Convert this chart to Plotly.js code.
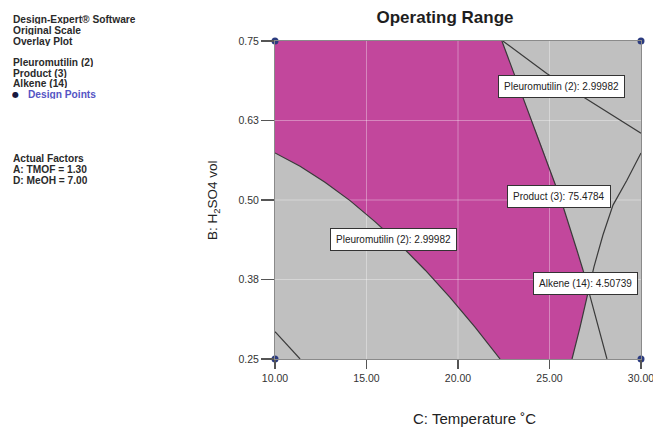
<!DOCTYPE html>
<html><head><meta charset="utf-8">
<script src="https://cdn.plot.ly/plotly-3.0.1.min.js"></script>
<style>html,body{margin:0;padding:0;background:#fff}#chart{width:653px;height:427px}</style>
</head><body><div id="chart"></div>
<script>
// ---- data ----
const xTicks = [10, 15, 20, 25, 30];
const xTickText = ['10.00', '15.00', '20.00', '25.00', '30.00'];
const yTicks = [0.25, 0.375, 0.5, 0.625, 0.75];
const yTickText = ['0.25', '0.38', '0.50', '0.63', '0.75'];

const pleuroLowerX = [10, 11.37, 12.73, 14.10, 15.46, 16.83, 18.20, 19.56, 20.93, 22.30];
const pleuroLowerY = [0.574, 0.553, 0.528, 0.499, 0.466, 0.430, 0.390, 0.347, 0.300, 0.25];
const pleuroUpperX = [22.45, 24.85, 26.85, 30];
const pleuroUpperY = [0.75, 0.699, 0.662, 0.605];
const pleuroCornerX = [10, 11.37];
const pleuroCornerY = [0.293, 0.25];
const productX = [22.40, 23.61, 24.64, 25.63, 26.50, 26.83, 27.27, 27.70, 28.14];
const productY = [0.75, 0.657, 0.579, 0.500, 0.421, 0.390, 0.343, 0.296, 0.25];
const alkeneX = [30, 29.23, 28.47, 27.92, 27.43, 27.05, 26.67, 26.23];
const alkeneY = [0.574, 0.531, 0.492, 0.445, 0.395, 0.347, 0.300, 0.25];

const designX = [10, 30, 10, 30];
const designY = [0.75, 0.75, 0.25, 0.25];

const labelText = ['Pleuromutilin (2): 2.99982', 'Pleuromutilin (2): 2.99982', 'Product (3): 75.4784', 'Alkene (14): 4.50739'];
const labelX = [25.66, 16.45, 25.52, 26.94];
const labelY = [0.678, 0.438, 0.506, 0.368];

const infoText = ['Design-Expert® Software', 'Original Scale', 'Overlay Plot',
  'Pleuromutilin (2)', 'Product (3)', 'Alkene (14)',
  'Actual Factors', 'A: TMOF = 1.30', 'D: MeOH = 7.00'];
const designLegend = 'Design Points';

// ---- geometry helpers ----
function intersect(ax, ay, bx, by) {
  for (let i = 0; i < ax.length - 1; i++) {
    for (let j = 0; j < bx.length - 1; j++) {
      const x1 = ax[i], y1 = ay[i], x2 = ax[i+1], y2 = ay[i+1];
      const x3 = bx[j], y3 = by[j], x4 = bx[j+1], y4 = by[j+1];
      const d = (x1-x2)*(y3-y4) - (y1-y2)*(x3-x4);
      if (Math.abs(d) < 1e-12) continue;
      const t = ((x1-x3)*(y3-y4) - (y1-y3)*(x3-x4)) / d;
      const u = -((x1-x2)*(y1-y3) - (y1-y2)*(x1-x3)) / d;
      if (t >= 0 && t <= 1 && u >= 0 && u <= 1) {
        return {x: x1 + t*(x2-x1), y: y1 + t*(y2-y1), i: i, j: j};
      }
    }
  }
  return null;
}
const X = intersect(productX, productY, alkeneX, alkeneY);
const polyX = [xTicks[0]], polyY = [yTicks[yTicks.length-1]];
for (let k = 0; k <= X.i; k++) { polyX.push(productX[k]); polyY.push(productY[k]); }
polyX.push(X.x); polyY.push(X.y);
for (let k = X.j + 1; k < alkeneX.length; k++) { polyX.push(alkeneX[k]); polyY.push(alkeneY[k]); }
for (let k = pleuroLowerX.length - 1; k >= 0; k--) { polyX.push(pleuroLowerX[k]); polyY.push(pleuroLowerY[k]); }

const FONT = '"Liberation Sans", Arial, Helvetica, sans-serif';
const lineStyle = {color: '#3a3a3a', width: 1.2};
const traces = [];
traces.push({x: polyX, y: polyY, type: 'scatter', mode: 'lines', fill: 'toself',
  fillcolor: '#c2479c', line: {width: 0}, hoverinfo: 'skip', showlegend: false});
// grid lines drawn over fills
const y0 = yTicks[0], y1 = yTicks[yTicks.length-1], x0 = xTicks[0], x1 = xTicks[xTicks.length-1];
xTicks.slice(1, -1).forEach(v => traces.push({x: [v, v], y: [y0, y1], type: 'scatter', mode: 'lines',
  line: {color: 'rgba(255,255,255,0.35)', width: 1}, hoverinfo: 'skip', showlegend: false}));
yTicks.slice(1, -1).forEach(v => traces.push({x: [x0, x1], y: [v, v], type: 'scatter', mode: 'lines',
  line: {color: 'rgba(255,255,255,0.35)', width: 1}, hoverinfo: 'skip', showlegend: false}));
[[pleuroLowerX, pleuroLowerY], [pleuroUpperX, pleuroUpperY], [pleuroCornerX, pleuroCornerY],
 [productX, productY], [alkeneX, alkeneY]].forEach(p => traces.push({x: p[0], y: p[1], type: 'scatter',
  mode: 'lines', line: lineStyle, hoverinfo: 'skip', showlegend: false}));
traces.push({x: designX, y: designY, type: 'scatter', mode: 'markers', cliponaxis: false,
  marker: {color: '#2c3c80', size: 7}, hoverinfo: 'skip', showlegend: false});

// ---- layout ----
const L = 275, R = 641.5, T = 41, B = 359;
const px2x = p => (p - L) / (R - L);
const px2y = p => (B - p) / (B - T);

const annotations = [];
labelText.forEach((t, k) => annotations.push({x: labelX[k], y: labelY[k], xref: 'x', yref: 'y',
  text: t, showarrow: false, bgcolor: '#ffffff', bordercolor: '#333', borderwidth: 1, borderpad: 5,
  font: {family: FONT, size: 10, color: '#222'}}));
const infoY = [19.3, 30, 40.7, 62.3, 72.8, 83.3, 158.3, 169.2, 180];
infoText.forEach((t, k) => annotations.push({x: px2x(11), y: px2y(infoY[k]), xref: 'paper', yref: 'paper',
  xanchor: 'left', yanchor: 'middle', text: '<b>' + t + '</b>', showarrow: false, height: 10,
  font: {family: FONT, size: 10.2, color: '#2a2a2a'}}));
annotations.push({x: px2x(15), y: px2y(93.8), xref: 'paper', yref: 'paper', xanchor: 'center', yanchor: 'middle',
  text: '●', showarrow: false, height: 10, font: {family: 'DejaVu Sans, sans-serif', size: 8, color: '#1a1a40'}});
annotations.push({x: px2x(25.5), y: px2y(94.3), xref: 'paper', yref: 'paper', xanchor: 'left', yanchor: 'middle',
  text: '<b>' + designLegend + '</b>', showarrow: false, height: 10, font: {family: FONT, size: 10.2, color: '#5454c4'}});
annotations.push({x: px2x(475), y: px2y(418), xref: 'paper', yref: 'paper', xanchor: 'center', yanchor: 'middle',
  text: 'C: Temperature ˚C', showarrow: false, font: {family: FONT, size: 15, color: '#222'}});
annotations.push({x: px2x(213), y: px2y(200), xref: 'paper', yref: 'paper', xanchor: 'center', yanchor: 'middle',
  textangle: -90, text: 'B: H<sub>2</sub>SO4 vol', showarrow: false, font: {family: FONT, size: 13.5, color: '#222'}});

const layout = {
  width: 653, height: 427,
  margin: {l: L, r: 653 - R, t: T, b: 427 - B, pad: 0},
  paper_bgcolor: '#ffffff', plot_bgcolor: '#c0c0c0',
  showlegend: false,
  title: {text: '<b>Operating Range</b>', xref: 'container', yref: 'container',
    x: 445 / 653, xanchor: 'center', y: 1 - 16.7 / 427, yanchor: 'middle',
    font: {family: FONT, size: 17, color: '#1e1e1e'}},
  xaxis: {range: [x0, x1], tickvals: xTicks, ticktext: xTickText, ticks: 'outside', ticklen: 9,
    tickcolor: '#555', tickwidth: 1.3, showgrid: false, zeroline: false, ticklabeloverflow: 'allow',
    showline: true, linecolor: '#8a8a8a', linewidth: 1, mirror: true,
    tickfont: {family: FONT, size: 10.5, color: '#333'}},
  yaxis: {range: [y0, y1], tickvals: yTicks, ticktext: yTickText, ticks: 'outside', ticklen: 13,
    tickcolor: '#555', tickwidth: 1.3, showgrid: false, zeroline: false,
    showline: true, linecolor: '#8a8a8a', linewidth: 1, mirror: true,
    tickfont: {family: FONT, size: 10.5, color: '#333'}},
  annotations: annotations
};
Plotly.newPlot('chart', traces, layout, {displayModeBar: false, staticPlot: true});
</script></body></html>
